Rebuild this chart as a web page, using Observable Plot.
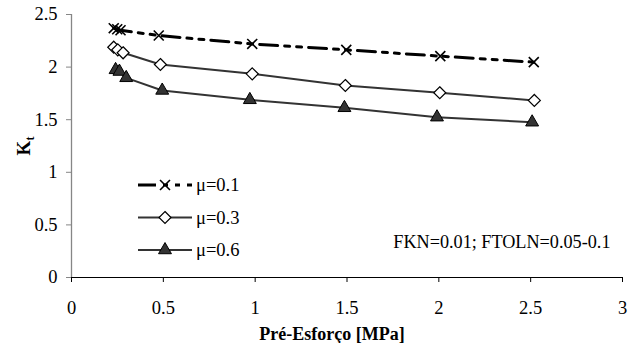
<!DOCTYPE html>
<html><head><meta charset="utf-8">
<script src="https://cdn.jsdelivr.net/npm/d3@7"></script>
<script src="https://cdn.jsdelivr.net/npm/@observablehq/plot@0.6"></script>
<style>
body{margin:0;background:#fff}
</style>
</head><body><div id="chart"></div>
<script>
// ---- data ----
const seriesNames = ["μ=0.1", "μ=0.3", "μ=0.6"];
const xMu01 = [0.23, 0.249, 0.267, 0.475, 0.984, 1.496, 2.008, 2.517];
const yMu01 = [2.37, 2.36, 2.35, 2.30, 2.22, 2.164, 2.104, 2.047];
const xMu03 = [0.23, 0.252, 0.281, 0.484, 0.984, 1.491, 2.005, 2.52];
const yMu03 = [2.189, 2.164, 2.136, 2.025, 1.936, 1.825, 1.756, 1.683];
const xMu06 = [0.24, 0.261, 0.298, 0.494, 0.971, 1.486, 1.99, 2.508];
const yMu06 = [1.974, 1.958, 1.898, 1.778, 1.689, 1.613, 1.524, 1.476];
const xTicks = [0, 0.5, 1, 1.5, 2, 2.5, 3];
const yTicks = [0, 0.5, 1, 1.5, 2, 2.5];
const xTitle = ["Pré-Esforço [MPa]"];
const yTitleMain = "K", yTitleSub = "t";
const note = ["FKN=0.01; FTOLN=0.05-0.1"];

const rows = (name, xs, ys) => xs.map((x, i) => ({series: name, x, y: ys[i]}));
const d01 = rows(seriesNames[0], xMu01, yMu01);
const d03 = rows(seriesNames[1], xMu03, yMu03);
const d06 = rows(seriesNames[2], xMu06, yMu06);

// ---- styles ----
const FONT = "Liberation Serif, Tinos, Times New Roman, Times, serif";
const dash01 = "18,7,5,7,5,7";
const styles = [
  {stroke: "#000", strokeWidth: 3, dash: dash01, symbol: "times", r: 4.6, fill: "none", mstroke: "#000", mw: 1.6},
  {stroke: "#333", strokeWidth: 2, dash: null, symbol: "diamond2", r: 5.4, fill: "#fff", mstroke: "#000", mw: 1.2},
  {stroke: "#333", strokeWidth: 2, dash: null, symbol: "triangle", r: 4.8, fill: "#333", mstroke: "#000", mw: 1}
];
const datasets = [d01, d03, d06];
const FS = 18.5;

const lineMarks = datasets.map((d, i) => Plot.line(d, {
  x: "x", y: "y", stroke: styles[i].stroke, strokeWidth: styles[i].strokeWidth,
  strokeDasharray: styles[i].dash || undefined, strokeLinejoin: "round"
}));
const dotMarks = datasets.map((d, i) => Plot.dot(d, {
  x: "x", y: "y", symbol: () => styles[i].symbol, r: styles[i].r,
  fill: styles[i].fill, stroke: styles[i].mstroke, strokeWidth: styles[i].mw
}));

const chart = Plot.plot({
  width: 640, height: 343,
  marginLeft: 71, marginRight: 18, marginTop: 14, marginBottom: 66,
  style: {background: "#fff", color: "#000", fontFamily: FONT},
  x: {domain: [0, 3]},
  y: {domain: [0, 2.5]},
  symbol: {type: "identity"},
  marks: [
    Plot.axisY(yTicks, {tickSize: 5, tickPadding: 9, fontSize: FS, stroke: "#868686", fill: "#000", tickFormat: d => String(d), label: null}),
    Plot.axisX(xTicks, {tickSize: 5, tickPadding: 18, fontSize: FS, stroke: "#000", fill: "#000", tickFormat: d => String(d), label: null}),
    Plot.ruleX([0], {stroke: "#868686", strokeWidth: 1.3}),
    Plot.ruleY([0], {stroke: "#000", strokeWidth: 1.2}),
    ...lineMarks,
    ...dotMarks,
    Plot.text(xTitle, {text: d => d, frameAnchor: "bottom", lineAnchor: "middle", dx: -15, dy: 57, fontSize: 18, fontWeight: "bold", fill: "#000"}),
    Plot.text(note, {text: d => d, frameAnchor: "right", textAnchor: "end", lineAnchor: "middle", dx: -12, dy: 96.5, fontSize: 18.2, fill: "#000"})
  ]
});
document.getElementById("chart").appendChild(chart);

// ---- y title with subscript ----
const svg = d3.select(chart);
const yt = svg.append("text")
  .attr("transform", "translate(30,146) rotate(-90)")
  .attr("text-anchor", "middle")
  .attr("font-weight", "bold")
  .attr("font-size", 19)
  .attr("fill", "#000");
yt.append("tspan").text(yTitleMain);
yt.append("tspan").attr("font-size", 12).attr("dy", 4).text(yTitleSub);

// ---- legend ----
const legY = [185, 217.5, 250];
const lg = svg.append("g");
const symMap = {times: d3.symbolTimes, diamond2: d3.symbolDiamond2, triangle: d3.symbolTriangle};
seriesNames.forEach((name, i) => {
  const s = styles[i];
  const y = legY[i];
  lg.append("line").attr("x1", 138).attr("x2", 192).attr("y1", y).attr("y2", y)
    .attr("stroke", s.stroke).attr("stroke-width", s.strokeWidth)
    .attr("stroke-dasharray", s.dash);
  lg.append("path").attr("transform", `translate(165,${y})`)
    .attr("d", d3.symbol(symMap[s.symbol], Math.PI * s.r * s.r)())
    .attr("fill", s.fill).attr("stroke", s.mstroke).attr("stroke-width", s.mw);
  lg.append("text").attr("x", 196).attr("y", y).attr("dy", "0.34em")
    .attr("text-anchor", "start")
    .attr("font-size", FS).attr("fill", "#000").text(name);
});

// force serif font on every text
svg.attr("font-family", FONT);
svg.selectAll("g").attr("font-family", FONT);
svg.selectAll("text").attr("font-family", FONT);
svg.selectAll("tspan").attr("font-family", FONT);
</script>
</body></html>
